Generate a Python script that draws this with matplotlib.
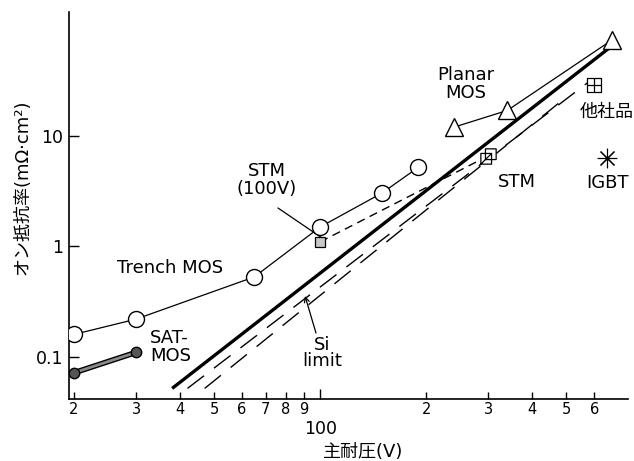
import numpy as np
import matplotlib
matplotlib.use('Agg')
import matplotlib.pyplot as plt
from matplotlib.path import Path
from matplotlib.ticker import FixedLocator, FixedFormatter, NullLocator

plt.rcParams['font.family'] = ['DejaVu Sans', 'Noto Sans CJK JP']

# --- data (V, mOhm*cm2) ---
trench_v = [20, 30, 65, 100, 150, 190]
trench_r = [0.16, 0.22, 0.53, 1.5, 3.05, 5.2]

satmos_v = [20, 30]
satmos_r = [0.072, 0.11]

planar_v = [240, 340, 675]
planar_r = [12, 17, 74]

stm100_v = [100]
stm100_r = [1.1]
stm_v = [300]
stm_r = [6.6]
other_v = [600]
other_r = [29]
igbt_v = [650]
igbt_r = [6.3]

# Si limit and the two dashed limit lines
si_v = [38, 660]
si_r = [0.052, 62]
dash1_v = [42, 580]
dash1_r = [0.052, 31]
dash2_v = [47, 500]
dash2_r = [0.052, 22.5]

x_minor = [20, 30, 40, 50, 60, 70, 80, 90, 200, 300, 400, 500, 600]
x_minor_lab = ['2', '3', '4', '5', '6', '7', '8', '9', '2', '3', '4', '5', '6']
y_major = [0.1, 1, 10]
y_major_lab = ['0.1', '1', '10']

W, H = 634, 461
L, R, T, B = 69, 628, 12, 399

fig = plt.figure(figsize=(W / 100, H / 100), dpi=100)
ax = fig.add_axes([L / W, 1 - B / H, (R - L) / W, (B - T) / H])
ax.set_xscale('log')
ax.set_yscale('log')
ax.set_xlim(19.36, 748)
ax.set_ylim(0.0417, 132)


def ax_pos(px, py):
    # pixel position in the picture -> axes fraction
    return (px - L) / (R - L), (B - py) / (B - T)


# custom markers
MV, LT, CP = Path.MOVETO, Path.LINETO, Path.CLOSEPOLY
sq_cross = Path([(-1, -1), (1, -1), (1, 1), (-1, 1), (-1, -1),
                 (0, -1), (0, 1), (-1, 0), (1, 0)],
                [MV, LT, LT, LT, CP, MV, LT, MV, LT])
two_sq = Path([(-1, -1), (0.4, -1), (0.4, 0.4), (-1, 0.4), (-1, -1),
               (-0.4, -0.4), (1, -0.4), (1, 1), (-0.4, 1), (-0.4, -0.4),
               (-1, -1), (0.4, 0.4)],
              [MV, LT, LT, LT, CP, MV, LT, LT, LT, CP, MV, LT])

# limit lines
ax.plot(si_v, si_r, color='black', lw=2.4, solid_capstyle='butt', zorder=3)
ax.plot(dash1_v, dash1_r, color='black', lw=1.0, linestyle=(0, (15, 9)), zorder=2)
ax.plot(dash2_v, dash2_r, color='black', lw=1.0, linestyle=(0, (15, 9)), zorder=2)
ax.plot(stm100_v + stm_v, stm100_r + stm_r, color='black', lw=1.0,
        linestyle=(0, (6, 4)), zorder=2)

# Trench MOS
ax.plot(trench_v, trench_r, color='black', lw=0.9, marker='o', ms=11.5,
        mfc='white', mec='black', mew=1.0, zorder=4)

# SAT-MOS
ax.plot(satmos_v, satmos_r, color='black', lw=4.0, solid_capstyle='round', zorder=4)
ax.plot(satmos_v, satmos_r, color='#8a8a8a', lw=2.0, marker='o', ms=7.5,
        mfc='#555555', mec='black', mew=1.0, zorder=5)

# Planar MOS
ax.plot(planar_v, planar_r, color='black', lw=0.9, marker='^', ms=13,
        mfc='white', mec='black', mew=1.0, zorder=4)

# single devices
ax.plot(stm100_v, stm100_r, linestyle='none', marker='s', ms=7.5,
        mfc='#c8c8c8', mec='black', mew=0.9, zorder=5)
ax.plot(stm_v, stm_r, linestyle='none', marker=two_sq, ms=11,
        mfc='white', mec='black', mew=0.9, zorder=5)
ax.plot(other_v, other_r, linestyle='none', marker=sq_cross, ms=10,
        mfc='white', mec='black', mew=0.9, zorder=5)
ax.plot(igbt_v, igbt_r, linestyle='none', marker=(8, 2, 0), ms=14,
        mec='black', mew=0.8, zorder=5)

# labels
fs = 13
ax.text(*ax_pos(170, 268), 'Trench MOS', transform=ax.transAxes,
        ha='center', va='center', fontsize=fs)
ax.text(*ax_pos(150, 347), 'SAT-\nMOS', transform=ax.transAxes,
        ha='left', va='center', fontsize=fs, linespacing=1.0)
ax.text(*ax_pos(267, 180), 'STM\n(100V)', transform=ax.transAxes,
        ha='center', va='center', fontsize=fs, linespacing=1.0)
ax.text(*ax_pos(466, 84), 'Planar\nMOS', transform=ax.transAxes,
        ha='center', va='center', fontsize=fs, linespacing=1.05)
ax.text(*ax_pos(517, 182), 'STM', transform=ax.transAxes,
        ha='center', va='center', fontsize=fs)
ax.text(*ax_pos(607, 112), '他社品', transform=ax.transAxes,
        ha='center', va='center', fontsize=fs)
ax.text(*ax_pos(607, 183), 'IGBT', transform=ax.transAxes,
        ha='center', va='center', fontsize=fs)
ax.text(*ax_pos(322, 353), 'Si\nlimit', transform=ax.transAxes,
        ha='center', va='center', fontsize=fs, linespacing=0.9)

# leader lines
ax.annotate('', xy=ax_pos(325, 240), xytext=ax_pos(278, 208),
            xycoords='axes fraction', textcoords='axes fraction',
            arrowprops=dict(arrowstyle='-', color='black', lw=0.9,
                            shrinkA=0, shrinkB=0))
ax.annotate('', xy=ax_pos(305, 296), xytext=ax_pos(316, 333),
            xycoords='axes fraction', textcoords='axes fraction',
            arrowprops=dict(arrowstyle='->', color='black', lw=0.9,
                            shrinkA=0, shrinkB=0, mutation_scale=9))

# axes styling
for s in ['top', 'right']:
    ax.spines[s].set_visible(False)
for s in ['left', 'bottom']:
    ax.spines[s].set_linewidth(1.2)

ax.xaxis.set_major_locator(FixedLocator([100]))
ax.xaxis.set_major_formatter(FixedFormatter(['100']))
ax.xaxis.set_minor_locator(FixedLocator(x_minor))
ax.xaxis.set_minor_formatter(FixedFormatter(x_minor_lab))
ax.yaxis.set_major_locator(FixedLocator(y_major))
ax.yaxis.set_major_formatter(FixedFormatter(y_major_lab))
ax.yaxis.set_minor_locator(NullLocator())

ax.tick_params(axis='x', which='major', direction='in', length=7, width=1.0,
               pad=15, labelsize=12.5)
ax.tick_params(axis='x', which='minor', direction='in', length=5, width=1.0,
               pad=2, labelsize=10.5)
ax.tick_params(axis='y', which='major', direction='in', length=7, width=1.0,
               pad=4, labelsize=12.5)

fig.text(22 / W, 1 - 187 / H, 'オン抵抗率(mΩ·cm²)', rotation=90,
         ha='center', va='center', fontsize=13)
fig.text(363 / W, 1 - 452 / H, '主耐圧(V)', ha='center', va='center',
         fontsize=13)

fig.savefig('out.png', dpi=100)
